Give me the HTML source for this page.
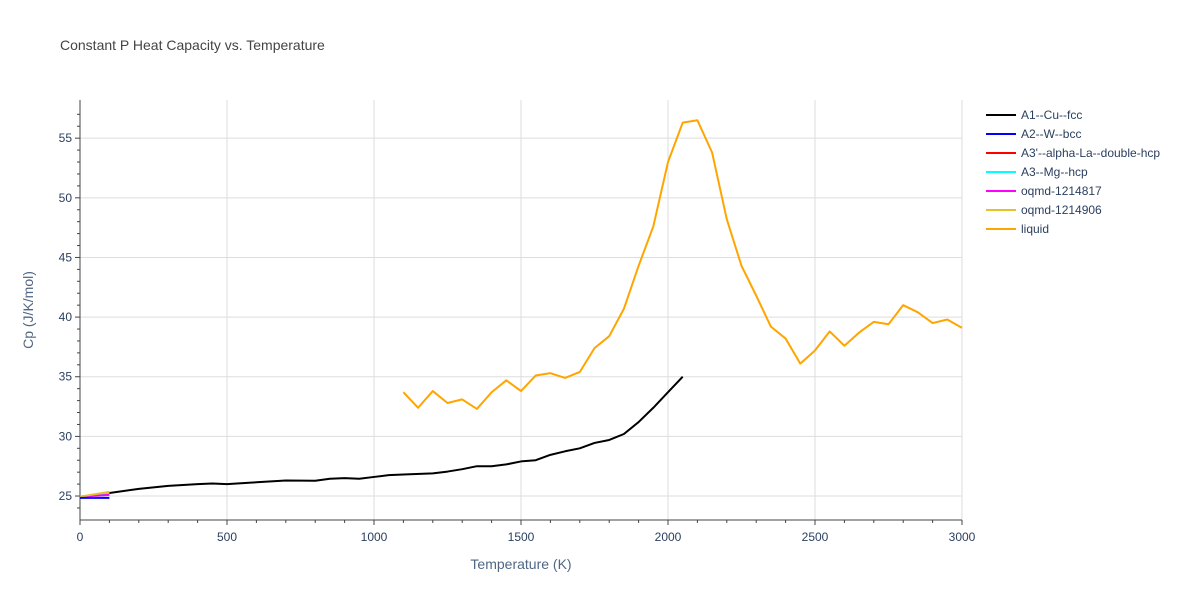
<!DOCTYPE html>
<html><head><meta charset="utf-8"><style>
body{margin:0;background:#fff;font-family:"Liberation Sans",sans-serif;}
svg text{font-family:"Liberation Sans",sans-serif;}
</style></head><body>
<svg id="chart" width="1200" height="600">
<rect width="1200" height="600" fill="#fff"/>
<text x="60" y="50" font-size="14" fill="#444">Constant P Heat Capacity vs. Temperature</text>
<g id="grid"></g><g id="axes"></g><g id="series"></g><g id="legend"></g>
<text x="521" y="569" font-size="14" fill="#506784" text-anchor="middle">Temperature (K)</text>
<text transform="translate(33,310) rotate(-90)" font-size="14" fill="#506784" text-anchor="middle">Cp (J/K/mol)</text>
</svg>
<script>
const xTicks=[0,500,1000,1500,2000,2500,3000];
const yTicks=[25,30,35,40,45,50,55];
const fccT=[100,200,300,400,450,500,600,700,800,850,900,950,1000,1050,1100,1200,1250,1300,1350,1400,1450,1500,1550,1600,1650,1700,1750,1800,1850,1900,1950,2000,2050];
const fccCp=[25.25,25.6,25.85,26.0,26.05,26.0,26.15,26.3,26.28,26.45,26.5,26.45,26.6,26.75,26.8,26.9,27.05,27.25,27.5,27.5,27.65,27.9,28.0,28.45,28.75,29.0,29.45,29.7,30.2,31.2,32.4,33.7,35.0];
const liqT=[1100,1150,1200,1250,1300,1350,1400,1450,1500,1550,1600,1650,1700,1750,1800,1850,1900,1950,2000,2050,2100,2150,2200,2250,2300,2350,2400,2450,2500,2550,2600,2650,2700,2750,2800,2850,2900,2950,3000];
const liqCp=[33.7,32.4,33.8,32.8,33.1,32.3,33.7,34.7,33.8,35.1,35.3,34.9,35.4,37.4,38.4,40.7,44.3,47.6,53.0,56.3,56.5,53.8,48.2,44.3,41.8,39.2,38.2,36.1,37.2,38.8,37.6,38.7,39.6,39.4,41.0,40.4,39.5,39.8,39.1];
const shortT=[0,100];
const bccCp=[24.85,24.85];
const dhcpCp=[24.95,25.15];
const hcpCp=[24.95,25.2];
const o1Cp=[24.95,25.1];
const o2Cp=[24.95,25.35];
const legendNames=["A1--Cu--fcc","A2--W--bcc","A3'--alpha-La--double-hcp","A3--Mg--hcp","oqmd-1214817","oqmd-1214906","liquid"];
const legendColors=["#000","#0000ff","#ff0000","#00ffff","#ff00ff","#e6c229","#ffa500"];

const X0=80,X1=962,Y0=520,Y1=100,ymin=22.99,ymax=58.2;
const sx=v=>X0+(v/3000)*(X1-X0);
const sy=v=>Y0-(v-ymin)/(ymax-ymin)*(Y0-Y1);
const NS="http://www.w3.org/2000/svg";
function mk(tag,attrs,parent){const e=document.createElementNS(NS,tag);for(const k in attrs)e.setAttribute(k,attrs[k]);document.getElementById(parent).appendChild(e);return e;}
xTicks.forEach(t=>{
  const l=mk('line',{x1:sx(t),x2:sx(t),y1:Y1,y2:Y0,stroke:'#ddd'},'grid');
  
  
  const tk=mk('line',{x1:sx(t),x2:sx(t),y1:Y0,y2:Y0+5,stroke:'#444'},'axes');
  
  
  const tx=mk('text',{x:sx(t),y:541,'font-size':12,fill:'#2a3f5f','text-anchor':'middle'},'axes');
  tx.textContent=t;
  
  
});
for(let t=100;t<3000;t+=100){if(t%500){const m=mk('line',{x1:sx(t),x2:sx(t),y1:Y0,y2:Y0+3,stroke:'#444'},'axes');
  
  }}
yTicks.forEach(t=>{
  const l=mk('line',{x1:X0,x2:X1,y1:sy(t),y2:sy(t),stroke:'#ddd'},'grid');
  
  
  const tk=mk('line',{x1:X0-5,x2:X0,y1:sy(t),y2:sy(t),stroke:'#444'},'axes');
  
  
  const tx=mk('text',{x:X0-8,y:sy(t)+4,'font-size':12,fill:'#2a3f5f','text-anchor':'end'},'axes');
  tx.textContent=t;
  
  
});
for(let t=24;t<58;t++){if(t%5){const m=mk('line',{x1:X0-3,x2:X0,y1:sy(t),y2:sy(t),stroke:'#444'},'axes');
  
  }}
const xa=mk('line',{x1:X0,x2:X1,y1:Y0,y2:Y0,stroke:'#444'},'axes');


const ya=mk('line',{x1:X0,x2:X0,y1:Y1,y2:Y0,stroke:'#444'},'axes');


function line(xs,ys,color,name){
  const p=mk('polyline',{points:xs.map((x,i)=>sx(x)+','+sy(ys[i])).join(' '),fill:'none',stroke:color,'stroke-width':2,'stroke-linejoin':'round'},'series');
  
  
}
line(fccT,fccCp,legendColors[0],'series-fcc');
line(liqT,liqCp,legendColors[6],'series-liquid');
line(shortT,dhcpCp,legendColors[2],'series-double-hcp');
line(shortT,hcpCp,legendColors[3],'series-hcp');
line(shortT,o1Cp,legendColors[4],'series-oqmd-1214817');
line(shortT,o2Cp,legendColors[5],'series-oqmd-1214906');
line(shortT,bccCp,legendColors[1],'series-bcc');
legendNames.forEach((n,i)=>{
  const y=115+i*19;
  const l=mk('line',{x1:986,x2:1016,y1:y,y2:y,stroke:legendColors[i],'stroke-width':2},'legend');
  
  
  const t=mk('text',{x:1021,y:y+4,'font-size':12,fill:'#2a3f5f'},'legend');
  t.textContent=n;
  
  
});
</script>
</body></html>
